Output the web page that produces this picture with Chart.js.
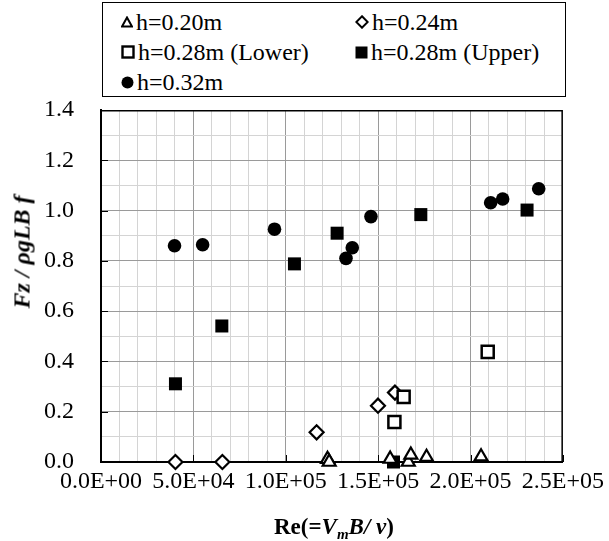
<!DOCTYPE html>
<html>
<head>
<meta charset="utf-8">
<script src="https://cdn.jsdelivr.net/npm/chart.js@4.4.1/dist/chart.umd.min.js"></script>
<style>
  html, body { margin: 0; padding: 0; background: #fff; }
  #wrap { position: relative; width: 609px; height: 541px; font-family: 'Liberation Serif', 'Times New Roman', serif; color: #000; }
  #chart { position: absolute; left: 0; top: 0; }
  .legend { position: absolute; left: 102px; top: 2px; width: 464px; height: 95px; border: 1px solid #000; box-sizing: border-box; background: #fff; }
  .leg-item { position: absolute; display: flex; align-items: center; font-size: 24px; line-height: 1; white-space: nowrap; }
  .leg-item svg { margin-right: 3px; }
  .ytitle { position: absolute; left: 22px; top: 252px; transform: translate(-50%, -50%) rotate(-90deg); font-size: 24px; font-weight: bold; font-style: italic; white-space: nowrap; }
  .xtitle { position: absolute; left: 334px; top: 527px; transform: translate(-50%, -50%); font-size: 23px; font-weight: bold; white-space: nowrap; }
  .xtitle i { font-style: italic; }
  .xtitle sub { font-size: 15px; vertical-align: -5px; line-height: 0; }
</style>
</head>
<body>
<div id="wrap">
  <canvas id="chart" width="609" height="541"></canvas>
  <div class="legend" id="legend"></div>
  <div class="ytitle">Fz / ρgLB f</div>
  <div class="xtitle">Re(=<i>V<sub>m</sub>B/ ν</i>)</div>
</div>
<script>
// Re values and Fz/(rho g L B f) per water depth
const re020 = [122600, 123500, 156500, 166300, 167700, 176200, 205700];
const fz020 = [0.011, 0.000, 0.012, 0.000, 0.028, 0.019, 0.021];

const re024 = [40300, 65700, 116700, 149900, 159100];
const fz024 = [0.000, 0.000, 0.118, 0.224, 0.276];

const re028Lower = [158800, 163800, 209300];
const fz028Lower = [0.159, 0.259, 0.438];

const re028Upper = [40300, 65400, 104700, 127800, 158300, 173100, 230600];
const fz028Upper = [0.311, 0.541, 0.788, 0.910, 0.000, 0.984, 1.002];

const re032 = [39800, 55000, 93900, 132600, 136000, 146100, 210900, 217400, 236900];
const fz032 = [0.860, 0.864, 0.926, 0.810, 0.852, 0.976, 1.031, 1.046, 1.087];

const seriesLabels = ['h=0.20m', 'h=0.24m', 'h=0.28m (Lower)', 'h=0.28m (Upper)', 'h=0.32m'];

const xTicksMajor = [0, 50000, 100000, 150000, 200000, 250000];
const yTicksMajor = [0, 0.2, 0.4, 0.6, 0.8, 1.0, 1.2, 1.4];

const pts = (xs, ys) => xs.map((x, i) => ({ x, y: ys[i] }));

// Excel style scientific label, e.g. 5.0E+04
function sci(v) {
    if (v === 0) return '0.0E+00';
    const e = Math.floor(Math.log10(v));
    const m = v / Math.pow(10, e);
    return m.toFixed(1) + 'E+' + String(e).padStart(2, '0');
}

const isMajorX = v => Math.round(v) % 50000 === 0;
const isMajorY = v => Math.round(v * 10) % 2 === 0;

const GRID_MAJOR = '#9a9a9a';
const GRID_MINOR = '#d4d4d4';

// frame on top/right plus inward tick marks on the major values
const frameAndTicks = {
    id: 'frameAndTicks',
    afterDraw(chart) {
        const { ctx, chartArea: a, scales } = chart;
        ctx.save();
        ctx.strokeStyle = '#000';
        ctx.lineWidth = 1.5;
        ctx.beginPath();
        ctx.moveTo(a.left, a.top + 0.75); ctx.lineTo(a.right, a.top + 0.75);
        ctx.moveTo(a.right - 0.75, a.top); ctx.lineTo(a.right - 0.75, a.bottom);
        ctx.stroke();
        ctx.lineWidth = 1;
        ctx.beginPath();
        xTicksMajor.forEach(v => {
            const px = Math.round(scales.x.getPixelForValue(v)) + 0.5;
            ctx.moveTo(px, a.bottom); ctx.lineTo(px, a.bottom - 7);
        });
        yTicksMajor.forEach(v => {
            const py = Math.round(scales.y.getPixelForValue(v)) + 0.5;
            ctx.moveTo(a.left, py); ctx.lineTo(a.left + 7, py);
        });
        ctx.stroke();
        ctx.restore();
    }
};

const tickFont = { family: "'Liberation Serif', 'Times New Roman', serif", size: 24 };

new Chart(document.getElementById('chart'), {
    type: 'scatter',
    data: {
        datasets: [
            { label: seriesLabels[0], data: pts(re020, fz020), pointStyle: 'triangle', pointRadius: 7.5, backgroundColor: '#fff', borderColor: '#000', borderWidth: 2.2, order: 0 },
            { label: seriesLabels[1], data: pts(re024, fz024), pointStyle: 'rectRot', pointRadius: 7, backgroundColor: '#fff', borderColor: '#000', borderWidth: 2.2, order: 2 },
            { label: seriesLabels[2], data: pts(re028Lower, fz028Lower), pointStyle: 'rect', pointRadius: 8.5, backgroundColor: '#fff', borderColor: '#000', borderWidth: 2.5, order: 1 },
            { label: seriesLabels[3], data: pts(re028Upper, fz028Upper), pointStyle: 'rect', pointRadius: 9.2, backgroundColor: '#000', borderColor: '#000', borderWidth: 0, order: 3 },
            { label: seriesLabels[4], data: pts(re032, fz032), pointStyle: 'circle', pointRadius: 6.8, backgroundColor: '#000', borderColor: '#000', borderWidth: 0, order: 4 }
        ]
    },
    options: {
        responsive: false,
        animation: false,
        clip: false,
        layout: { padding: { top: 110, right: 42.5, left: 0, bottom: 0 } },
        plugins: { legend: { display: false }, tooltip: { enabled: false } },
        elements: { point: { hoverRadius: 0 } },
        scales: {
            x: {
                type: 'linear', min: 0, max: 250000,
                afterFit: s => { s.height = 79; },
                border: { color: '#000', width: 2 },
                grid: { drawTicks: false, lineWidth: 1, color: c => (c.tick && isMajorX(c.tick.value)) ? GRID_MAJOR : GRID_MINOR },
                ticks: { stepSize: 10000, autoSkip: false, maxRotation: 0, minRotation: 0, padding: 5, color: '#000', font: tickFont,
                    callback: v => isMajorX(v) ? sci(v) : '' }
            },
            y: {
                type: 'linear', min: 0, max: 1.4,
                afterFit: s => { s.width = 101; },
                border: { color: '#000', width: 2 },
                grid: { drawTicks: false, lineWidth: 1, color: c => (c.tick && isMajorY(c.tick.value)) ? GRID_MAJOR : GRID_MINOR },
                ticks: { stepSize: 0.1, autoSkip: false, padding: 27, color: '#000', font: tickFont,
                    callback: v => isMajorY(v) ? v.toFixed(1) : '' }
            }
        }
    },
    plugins: [frameAndTicks]
});

// legend markers, laid out two per row
const markers = [
    '<svg width="12" height="12" viewBox="0 0 12 12"><polygon points="6,1.5 11,10.5 1,10.5" fill="#fff" stroke="#000" stroke-width="2"/></svg>',
    '<svg width="14" height="14" viewBox="0 0 14 14"><polygon points="7,1.3 12.7,7 7,12.7 1.3,7" fill="#fff" stroke="#000" stroke-width="2"/></svg>',
    '<svg width="14" height="14" viewBox="0 0 14 14"><rect x="1.5" y="1.5" width="11" height="11" fill="#fff" stroke="#000" stroke-width="2.4"/></svg>',
    '<svg width="13" height="13" viewBox="0 0 13 13"><rect x="0.5" y="0.5" width="12" height="12" fill="#000"/></svg>',
    '<svg width="13" height="13" viewBox="0 0 13 13"><circle cx="6.5" cy="6.5" r="6" fill="#000"/></svg>'
];
const legPos = [[18, 20], [252, 20], [18, 50], [252, 50], [18, 80]];
const legend = document.getElementById('legend');
seriesLabels.forEach((label, i) => {
    const el = document.createElement('div');
    el.className = 'leg-item';
    el.style.left = legPos[i][0] + 'px';
    el.style.top = (legPos[i][1] - 13) + 'px';
    el.innerHTML = markers[i] + '<span>' + label + '</span>';
    legend.appendChild(el);
});
</script>
</body>
</html>
